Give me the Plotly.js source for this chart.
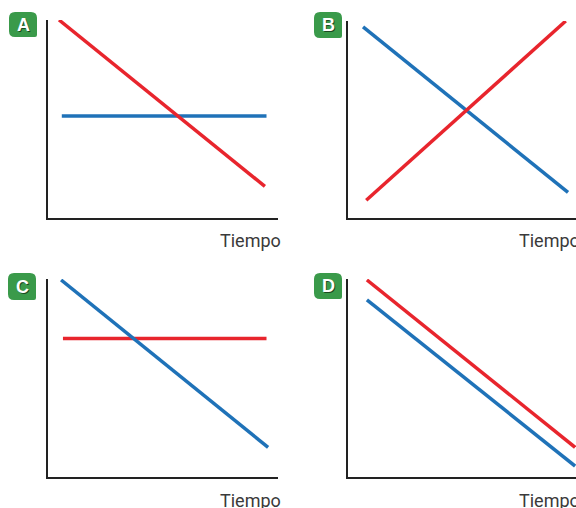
<!DOCTYPE html>
<html><head><meta charset="utf-8">
<script src="https://cdn.plot.ly/plotly-3.0.1.min.js"></script>
<style>html,body{margin:0;padding:0;background:#fff;overflow:hidden}#chart{width:576px;height:508px}</style>
</head><body><div id="chart"></div>
<script>
// Panel labels and axis title
const panelLabels = ['A', 'B', 'C', 'D'];
const axisTitle = 'Tiempo';

// Panel A
const aRedX = [0.48, 9.43];  const aRedY = [10, 1.6];
const aBlueX = [0.6, 9.5];   const aBlueY = [5.15, 5.15];
// Panel B
const bBlueX = [0.66, 9.65]; const bBlueY = [9.7, 1.3];
const bRedX = [0.8, 9.55];   const bRedY = [0.9, 10];
// Panel C
const cRedX = [0.65, 9.5];   const cRedY = [7, 7];
const cBlueX = [0.57, 9.57]; const cBlueY = [9.95, 1.5];
// Panel D
const dRedX = [0.83, 9.96];  const dRedY = [9.95, 1.5];
const dBlueX = [0.83, 9.96]; const dBlueY = [8.95, 0.55];

const RED = '#e8252d', BLUE = '#1f72b8', GREEN = '#3a9a4a';
const W = 576, H = 508;
const px = v => v / W, py = v => 1 - v / H;

function line(x, y, color, ax) {
  return {x: x, y: y, type: 'scatter', mode: 'lines', xaxis: 'x' + ax, yaxis: 'y' + ax,
    line: {color: color, width: 3.5}, hoverinfo: 'skip', showlegend: false};
}
const data = [
  line(aBlueX, aBlueY, BLUE, ''), line(aRedX, aRedY, RED, ''),
  line(bBlueX, bBlueY, BLUE, '2'), line(bRedX, bRedY, RED, '2'),
  line(cRedX, cRedY, RED, '3'), line(cBlueX, cBlueY, BLUE, '3'),
  line(dRedX, dRedY, RED, '4'), line(dBlueX, dBlueY, BLUE, '4')
];

// panel pixel boxes [left, right, top, bottom]
const boxes = [[48, 278, 20, 218], [348, 576, 21, 218], [48, 278, 279, 477], [348, 576, 279, 477]];
const labelBoxes = [[9, 37, 12, 37], [314, 342, 12, 38], [8, 36, 273, 300], [314, 342, 273, 299]];
const titlePos = [[218, 240], [517, 240], [218, 500], [517, 500]];

const layout = {
  width: W, height: H, margin: {l: 0, r: 0, t: 0, b: 0},
  paper_bgcolor: '#fff', plot_bgcolor: 'rgba(0,0,0,0)',
  hovermode: false, showlegend: false,
  shapes: [], annotations: []
};
boxes.forEach((b, i) => {
  const s = i === 0 ? '' : String(i + 1);
  layout['xaxis' + s] = {domain: [px(b[0]), px(b[1])], range: [0, 10], anchor: 'y' + s,
    showline: true, linecolor: '#222', linewidth: 2, showgrid: false, zeroline: false,
    showticklabels: false, ticks: '', fixedrange: true};
  layout['yaxis' + s] = {domain: [py(b[3]), py(b[2])], range: [0, 10], anchor: 'x' + s,
    showline: true, linecolor: '#222', linewidth: 2, showgrid: false, zeroline: false,
    showticklabels: false, ticks: '', fixedrange: true};
});
labelBoxes.forEach((lb, i) => {
  const [l, r, t, b] = lb, rr = 6, r2 = 2;
  const path = 'M ' + px(l + rr) + ',' + py(t) +
    ' L ' + px(r - rr) + ',' + py(t) +
    ' Q ' + px(r) + ',' + py(t) + ' ' + px(r) + ',' + py(t + rr) +
    ' L ' + px(r) + ',' + py(b - r2) +
    ' Q ' + px(r) + ',' + py(b) + ' ' + px(r - r2) + ',' + py(b) +
    ' L ' + px(l + rr) + ',' + py(b) +
    ' Q ' + px(l) + ',' + py(b) + ' ' + px(l) + ',' + py(b - rr) +
    ' L ' + px(l) + ',' + py(t + rr) +
    ' Q ' + px(l) + ',' + py(t) + ' ' + px(l + rr) + ',' + py(t) + ' Z';
  layout.shapes.push({type: 'path', xref: 'paper', yref: 'paper', path: path,
    fillcolor: GREEN, line: {width: 0}, layer: 'above'});
  layout.annotations.push({xref: 'paper', yref: 'paper', x: px((l + r) / 2), y: py((t + b) / 2),
    xanchor: 'center', yanchor: 'middle', showarrow: false, text: '<b>' + panelLabels[i] + '</b>',
    font: {family: 'Liberation Sans, Arial, sans-serif', size: 18, color: '#fff',
      shadow: '1px 1px 0px rgba(0,0,0,0.55)'}});
});
titlePos.forEach(tp => {
  layout.annotations.push({xref: 'paper', yref: 'paper', x: px(tp[0]), y: py(tp[1]),
    xanchor: 'left', yanchor: 'middle', showarrow: false, text: axisTitle,
    font: {family: 'Roboto, Liberation Sans, sans-serif', size: 18, color: '#3a3a3a'}});
});

Plotly.newPlot('chart', data, layout, {staticPlot: true, displayModeBar: false});
</script>
</body></html>
